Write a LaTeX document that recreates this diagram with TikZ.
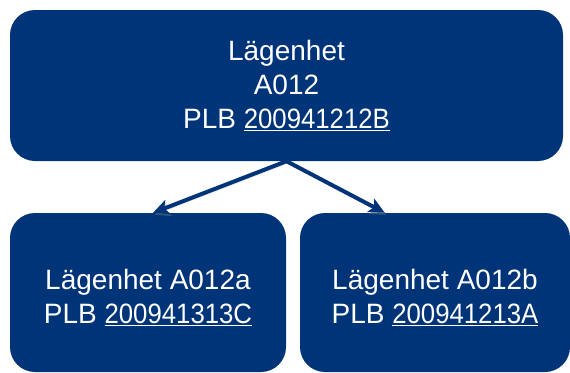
\documentclass[tikz,border=0pt]{standalone}
\usepackage{fontspec}
\setmainfont{Liberation Sans}
\newfontfamily\numfont[FakeStretch=0.92]{Liberation Sans}
\usetikzlibrary{arrows.meta,calc}
\definecolor{navy}{RGB}{0,52,120}
\tikzset{
    unit/.style = {fill=navy, rounded corners=25pt, text=white, align=center,
                   inner sep=0pt, font=\fontsize{28}{34}\selectfont},
    link/.style = {-{Stealth[length=16pt,width=15pt,inset=4pt]}, line width=4pt, draw=navy,
                   preaction={draw=black!45, opacity=0.35,
                              transform canvas={shift={(1.5pt,-2pt)}}}}
}
\newcommand{\plbnr}[1]{\underline{\numfont #1}}
\newcommand{\lift}{\rule{0pt}{30pt}}

\begin{document}
\begin{tikzpicture}[x=1pt,y=-1pt]

    \useasboundingbox (0,0) rectangle (570,372);

    % ---------- parent flat ----------
    \node[unit, minimum width=553pt, minimum height=151pt] (flat) at (286.5,85.5)
      {Lägenhet\\A012\\PLB \plbnr{200941212B}};

    % ---------- split flats ----------
    \node[unit, minimum width=276pt, minimum height=159pt] (flatA) at (148,292.5)
      {\lift Lägenhet A012a\\PLB \plbnr{200941313C}};
    \node[unit, minimum width=270pt, minimum height=159pt] (flatB) at (435,292.5)
      {\lift Lägenhet A012b\\PLB \plbnr{200941213A}};

    % arrow tips on the top edges
    \coordinate (tipA) at ([xshift=5pt]flatA.north);
    \coordinate (tipB) at ([xshift=85pt]flatB.north west);

    \draw[link] (flat.south) -- (tipA);
    \draw[link] (flat.south) -- (tipB);

\end{tikzpicture}
\end{document}
